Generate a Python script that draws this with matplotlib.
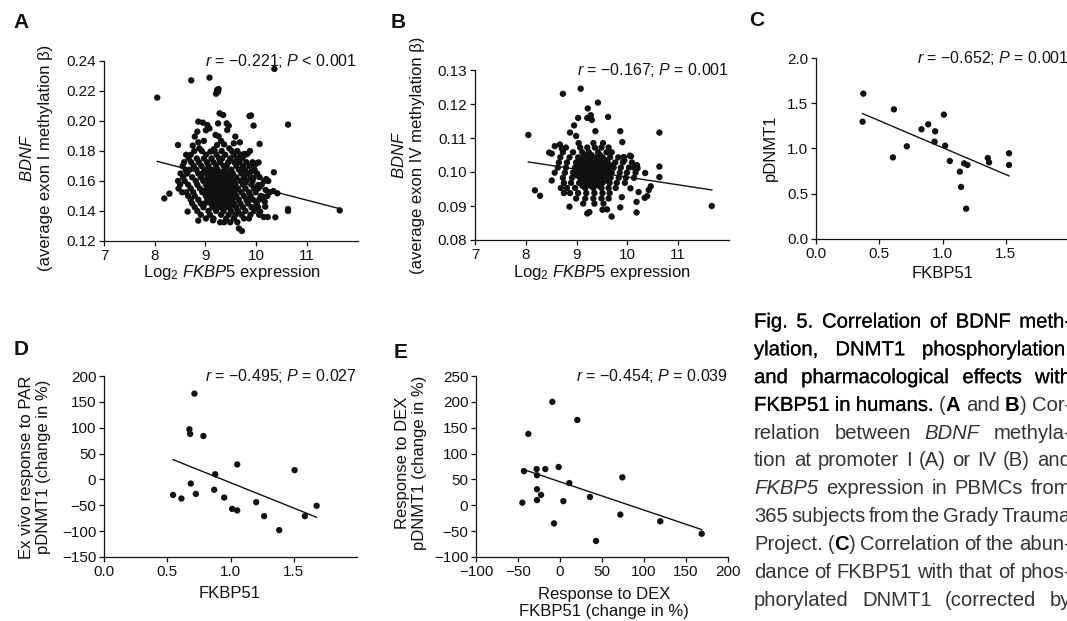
import numpy as np
import matplotlib
matplotlib.use('Agg')
import matplotlib.pyplot as plt
import matplotlib.patheffects as pe
from matplotlib.ticker import FuncFormatter

plt.rcParams['font.family'] = ['Liberation Sans', 'DejaVu Sans']
plt.rcParams['mathtext.fontset'] = 'custom'
plt.rcParams['mathtext.rm'] = 'Liberation Sans'
plt.rcParams['mathtext.it'] = 'Liberation Sans:italic'
plt.rcParams['mathtext.bf'] = 'Liberation Sans:bold'

# ---------------- data ----------------
# Panel A: log2 FKBP5 expression vs BDNF exon I methylation
a_sparse = [
    (8.05, 0.2156), (8.72, 0.2271), (9.08, 0.2289), (9.21, 0.2182), (9.23, 0.2207), (9.25, 0.2195),
    (9.26, 0.2213), (10.36, 0.2347), (10.63, 0.1976), (11.65, 0.1404), (8.19, 0.1484), (8.29, 0.1516),
    (8.46, 0.1840), (9.87, 0.2033), (9.90, 0.2037), (9.95, 0.1969), (10.07, 0.1847), (10.35, 0.1658),
    (10.63, 0.1413), (10.63, 0.1400), (10.15, 0.1360), (10.23, 0.1360), (10.38, 0.1358), (9.66, 0.1284),
    (9.72, 0.1267), (8.65, 0.1396), (8.86, 0.1336), (9.15, 0.1338),
    (8.86, 0.1996), (8.95, 0.1989), (9.04, 0.1973), (9.08, 0.1951), (9.01, 0.1938), (8.84, 0.1929),
    (9.25, 0.1984), (9.28, 0.2051), (9.35, 0.2040), (9.42, 0.1984), (9.46, 0.1969), (9.43, 0.1940),
    (9.20, 0.1907), (9.26, 0.1898), (8.79, 0.1896), (8.75, 0.1836), (8.86, 0.1858), (8.97, 0.1867),
    (8.88, 0.1818), (9.10, 0.1796), (9.17, 0.1813), (9.23, 0.1840), (9.31, 0.1867), (9.37, 0.1844),
    (9.47, 0.1818), (9.59, 0.1896), (9.56, 0.1851), (9.68, 0.1858), (9.76, 0.1780), (9.83, 0.1782),
    (10.01, 0.1718), (10.05, 0.1724), (9.97, 0.1707), (9.90, 0.1662), (9.95, 0.1622), (10.16, 0.1600),
    (10.20, 0.1613), (10.04, 0.1573), (10.34, 0.1533), (10.42, 0.1518), (10.19, 0.1540), (10.13, 0.1496),
    (10.17, 0.1462), (10.18, 0.1429), (10.08, 0.1396), (9.97, 0.1424), (9.83, 0.1462), (9.89, 0.1496),
]
a_core = {
    0.1800: [8.78, 8.93, 9.18, 9.32, 9.52, 9.63, 9.88],
    0.1775: [8.62, 8.71, 9.01, 9.22, 9.39, 9.56, 9.69, 9.79],
    0.1750: [8.67, 8.83, 8.97, 9.12, 9.27, 9.33, 9.49, 9.62, 9.73],
    0.1725: [8.58, 8.72, 8.87, 9.03, 9.16, 9.29, 9.45, 9.57, 9.67, 9.81, 9.93],
    0.1700: [8.55, 8.77, 8.92, 9.06, 9.21, 9.36, 9.42, 9.61, 9.74, 9.87],
    0.1675: [8.61, 8.69, 8.82, 8.98, 9.11, 9.24, 9.39, 9.51, 9.66, 9.78, 9.97],
    0.1663: [9.04, 9.19, 9.35],
    0.1650: [8.51, 8.64, 8.86, 8.94, 9.14, 9.31, 9.46, 9.54, 9.71, 9.83, 10.02],
    0.1638: [9.09, 9.25, 9.42],
    0.1625: [8.56, 8.74, 8.91, 9.04, 9.19, 9.34, 9.49, 9.61, 9.76, 9.89, 10.07],
    0.1613: [9.13, 9.30, 9.46],
    0.1600: [8.46, 8.59, 8.81, 8.96, 9.09, 9.26, 9.41, 9.56, 9.69, 9.81, 9.93, 10.24],
    0.1588: [9.06, 9.21, 9.36, 9.51],
    0.1575: [8.50, 8.66, 8.84, 9.01, 9.16, 9.29, 9.44, 9.59, 9.74, 9.91, 10.11],
    0.1563: [9.11, 9.26, 9.41, 9.55],
    0.1550: [8.47, 8.71, 8.89, 9.06, 9.21, 9.36, 9.51, 9.64, 9.79, 9.96, 10.04],
    0.1538: [9.00, 9.16, 9.30, 9.46, 9.60],
    0.1525: [8.54, 8.62, 8.76, 8.94, 9.11, 9.24, 9.39, 9.54, 9.71, 9.86, 9.99, 10.27],
    0.1513: [9.06, 9.20, 9.35, 9.50],
    0.1500: [8.66, 8.79, 9.01, 9.14, 9.31, 9.46, 9.61, 9.76, 9.89, 10.09, 10.22],
    0.1488: [9.09, 9.25, 9.40, 9.56],
    0.1475: [8.71, 8.86, 9.04, 9.19, 9.34, 9.49, 9.66, 9.81, 9.94, 10.06],
    0.1463: [9.15, 9.31, 9.46],
    0.1450: [8.74, 8.91, 8.99, 9.11, 9.26, 9.41, 9.56, 9.69, 9.84, 10.01],
    0.1438: [9.20, 9.36, 9.51],
    0.1425: [8.79, 8.96, 9.14, 9.29, 9.44, 9.61, 9.74, 9.91, 10.04],
    0.1400: [8.84, 9.06, 9.21, 9.36, 9.51, 9.64, 9.79, 9.96],
    0.1375: [8.91, 9.09, 9.31, 9.46, 9.59, 9.71, 9.89, 10.06],
    0.1350: [9.01, 9.16, 9.41, 9.56, 9.76, 9.86],
    0.1325: [9.29, 9.37, 9.49, 9.63],
}
a_fit = (-0.00876, 0.2436)   # slope, intercept of the drawn regression line
a_xticks = [7, 8, 9, 10, 11]
a_yticks = [0.12, 0.14, 0.16, 0.18, 0.20, 0.22, 0.24]

# Panel B: log2 FKBP5 expression vs BDNF exon IV methylation
b_sparse = [
    (8.05, 0.1109), (8.73, 0.1230), (9.08, 0.1245), (9.42, 0.1204), (9.22, 0.1187), (9.21, 0.1159),
    (9.28, 0.1167), (9.30, 0.1153), (9.03, 0.1159), (9.62, 0.1162), (8.95, 0.1137), (8.87, 0.1116),
    (8.99, 0.1106), (9.37, 0.1120), (9.86, 0.1120), (9.90, 0.1088), (10.63, 0.1116), (10.63, 0.1016),
    (10.63, 0.0985), (11.66, 0.0900), (8.18, 0.0946), (8.28, 0.0930), (8.46, 0.1057), (8.51, 0.1054),
    (8.57, 0.1076), (8.67, 0.1081), (8.71, 0.1069), (8.51, 0.0975), (8.86, 0.0898), (9.21, 0.0878),
    (9.25, 0.0882), (9.51, 0.0889), (9.60, 0.0890), (9.69, 0.0869), (9.86, 0.0896), (10.18, 0.0881),
    (10.18, 0.0912), (10.34, 0.0924), (10.39, 0.0929), (10.46, 0.0958), (10.42, 0.0947), (10.35, 0.0997),
    (10.19, 0.1020), (10.20, 0.1011), (10.05, 0.1048), (10.07, 0.1046), (9.93, 0.1044), (9.94, 0.1034),
    (10.22, 0.0941), (10.06, 0.0952), (9.89, 0.0926),
]
b_core = {
    0.1085: [9.04, 9.33, 9.52],
    0.1072: [8.79, 9.07, 9.21, 9.36, 9.49, 9.63],
    0.1058: [8.73, 8.93, 9.11, 9.24, 9.42, 9.59, 9.69],
    0.1050: [9.14, 9.29, 9.46],
    0.1043: [8.68, 8.86, 9.03, 9.19, 9.35, 9.51, 9.66, 9.82],
    0.1035: [9.09, 9.26, 9.41, 9.56],
    0.1028: [8.65, 8.81, 8.99, 9.16, 9.31, 9.46, 9.61, 9.76, 9.91, 10.09],
    0.1020: [9.06, 9.21, 9.36, 9.51, 9.66],
    0.1013: [8.63, 8.79, 8.97, 9.13, 9.27, 9.43, 9.57, 9.73, 9.87, 10.03, 10.13],
    0.1005: [9.03, 9.18, 9.34, 9.48, 9.63],
    0.0998: [8.57, 8.77, 8.93, 9.09, 9.25, 9.39, 9.55, 9.69, 9.85, 9.99, 10.16],
    0.0990: [9.01, 9.16, 9.31, 9.46, 9.61],
    0.0983: [8.73, 8.91, 9.07, 9.23, 9.37, 9.53, 9.67, 9.83, 9.97, 10.13],
    0.0975: [9.15, 9.29, 9.45, 9.59],
    0.0968: [8.75, 8.89, 9.05, 9.21, 9.35, 9.51, 9.65, 9.79, 9.95],
    0.0960: [9.11, 9.27, 9.43],
    0.0953: [8.69, 8.81, 8.97, 9.17, 9.33, 9.49, 9.63, 9.77],
    0.0938: [8.75, 8.87, 9.03, 9.19, 9.35, 9.51, 9.65],
    0.0922: [8.99, 9.17, 9.33, 9.49, 9.63],
    0.0907: [9.13, 9.35, 9.53],
}
b_fit = (-0.00228, 0.12131)
b_xticks = [7, 8, 9, 10, 11]
b_yticks = [0.08, 0.09, 0.10, 0.11, 0.12, 0.13]

# Panel C: FKBP51 vs pDNMT1
c_fkbp51 = [0.374, 0.368, 0.616, 0.608, 0.718, 0.834, 0.887, 0.942, 0.937, 1.011, 1.021,
            1.058, 1.137, 1.147, 1.171, 1.197, 1.187, 1.358, 1.368, 1.526, 1.526]
c_pdnmt1 = [1.606, 1.296, 1.433, 0.902, 1.024, 1.212, 1.267, 1.190, 1.075, 1.374, 1.031,
            0.862, 0.744, 0.575, 0.836, 0.818, 0.335, 0.895, 0.847, 0.947, 0.818]
c_fit = (-0.595, 1.605)
c_xticks = [0.0, 0.5, 1.0, 1.5]
c_yticks = [0.0, 0.5, 1.0, 1.5, 2.0]

# Panel D: FKBP51 vs ex vivo PAR response of pDNMT1 (%)
d_fkbp51 = [0.546, 0.612, 0.675, 0.681, 0.715, 0.686, 0.726, 0.786, 0.879, 0.871,
            0.950, 1.013, 1.053, 1.053, 1.203, 1.266, 1.385, 1.507, 1.588, 1.681]
d_response = [-30, -37, 97, 88, 166, -8, -28, 84, 10, -20,
              -35, -57, -60, 29, -44, -71, -98, 18, -71, -51]
d_fit = (-98.2, 91.9)
d_xticks = [0.0, 0.5, 1.0, 1.5]
d_yticks = [-150, -100, -50, 0, 50, 100, 150, 200]

# Panel E: DEX response of FKBP51 vs DEX response of pDNMT1 (%)
e_fkbp51 = [-44.8, -42.9, -37.7, -27.8, -27.4, -27.4, -27.4, -22.6, -17.5, -9.1, -7.1,
            -1.6, 4.0, 11.1, 20.6, 35.7, 42.9, 71.8, 74.2, 119.4, 168.7]
e_pdnmt1 = [5, 66, 138, 70, 58, 31, 10, 20, 70, 200, -35,
            74, 8, 43, 165, 16, -69, -18, 54, -31, -55]
e_fit = (-0.548, 45.45)
e_xticks = [-100, -50, 0, 50, 100, 150, 200]
e_yticks = [-100, -50, 0, 50, 100, 150, 200, 250]


def expand(sparse, core):
    xs = [p[0] for p in sparse]
    ys = [p[1] for p in sparse]
    for yv, row in core.items():
        xs += row
        ys += [yv] * len(row)
    return np.array(xs), np.array(ys)


a_x, a_y = expand(a_sparse, a_core)
b_x, b_y = expand(b_sparse, b_core)

# ---------------- figure ----------------
W, H = 1067, 621
fig = plt.figure(figsize=(W / 100, H / 100), dpi=100)
INK = '#111111'


def px_axes(left, top, right, bottom):
    return fig.add_axes([left / W, 1 - bottom / H, (right - left) / W, (bottom - top) / H])


def ftext(x, y, s, **kw):
    return fig.text(x / W, 1 - y / H, s, **kw)


def fmt(spec):
    return FuncFormatter(lambda v, p: (spec % v).replace('-', '\u2212'))


def panel(box, x, y, fit, xlim, ylim, xticks, yticks, xfmt, yfmt, stat, size):
    ax = px_axes(*box)
    ax.scatter(x, y, s=size, color=INK, edgecolors='none', zorder=3, clip_on=False)
    xs = np.array([min(x), max(x)])
    ax.plot(xs, fit[0] * xs + fit[1], color=INK, lw=1.0, zorder=2)
    ax.set_xlim(*xlim)
    ax.set_ylim(*ylim)
    ax.set_xticks(xticks)
    ax.set_yticks(yticks)
    ax.xaxis.set_major_formatter(fmt(xfmt))
    ax.yaxis.set_major_formatter(fmt(yfmt))
    for s in ['top', 'right']:
        ax.spines[s].set_visible(False)
    for s in ['left', 'bottom']:
        ax.spines[s].set_linewidth(0.9)
        ax.spines[s].set_color(INK)
    ax.tick_params(direction='out', length=3.5, width=0.9, labelsize=11, pad=2, colors=INK)
    ax.text(1.0, 1.0, stat, transform=ax.transAxes, ha='right', va='center',
            fontsize=11.5, color=INK)
    return ax


panel((104, 61, 357.5, 241), a_x, a_y, a_fit, (7, 12), (0.12, 0.24), a_xticks, a_yticks,
      '%d', '%.2f', '$r$ = \u22120.221; $P$ < 0.001', 21)
panel((475, 70, 729, 240), b_x, b_y, b_fit, (7, 12), (0.08, 0.13), b_xticks, b_yticks,
      '%d', '%.2f', '$r$ = \u22120.167; $P$ = 0.001', 21)
panel((816, 58, 1069, 239), c_fkbp51, c_pdnmt1, c_fit, (0, 2), (0, 2), c_xticks, c_yticks,
      '%.1f', '%.1f', '$r$ = \u22120.652; $P$ = 0.001', 21)
panel((104, 376, 357, 557), d_fkbp51, d_response, d_fit, (0, 2), (-150, 200), d_xticks, d_yticks,
      '%.1f', '%d', '$r$ = \u22120.495; $P$ = 0.027', 21)
panel((476, 376, 728, 557), e_fkbp51, e_pdnmt1, e_fit, (-100, 200), (-100, 250), e_xticks, e_yticks,
      '%d', '%d', '$r$ = \u22120.454; $P$ = 0.039', 21)

# panel letters
for letter, (lx, ly) in {'A': (21, 23), 'B': (398, 23), 'C': (757, 20), 'D': (21, 350), 'E': (401, 352)}.items():
    ftext(lx, ly, letter, fontsize=15, fontweight='bold', ha='center', va='center', color=INK)

# axis labels
lab = dict(fontsize=12, color=INK, ha='center', va='center', multialignment='center')
ftext(36, 158, '$\\it{BDNF}$\n(average exon I methylation \u03b2)', rotation=90, linespacing=1.25, **lab)
ftext(408, 155, '$\\it{BDNF}$\n(average exon IV methylation \u03b2)', rotation=90, linespacing=1.25, **lab)
ftext(770, 148, 'pDNMT1', rotation=90, **lab)
ftext(35, 467, 'Ex vivo response to PAR\npDNMT1 (change in %)', rotation=90, linespacing=1.2, **lab)
ftext(411, 463, 'Response to DEX\npDNMT1 (change in %)', rotation=90, linespacing=1.2, **lab)

ftext(232, 273, 'Log$_2$ $\\it{FKBP5}$ expression', **lab)
ftext(602, 273, 'Log$_2$ $\\it{FKBP5}$ expression', **lab)
ftext(943, 274, 'FKBP51', **lab)
ftext(230, 594, 'FKBP51', **lab)
ftext(604, 603, 'Response to DEX\nFKBP51 (change in %)', linespacing=1.2, **lab)

# ---------------- caption (justified, cut at the right edge) ----------------
cap_size = 14.6
heavy = [pe.withStroke(linewidth=0.15, foreground='black')]
st_title = dict(fontsize=cap_size, color='black', path_effects=heavy)
st_body = dict(fontsize=cap_size, color='#333333')
st_bold = dict(fontsize=cap_size, color='black', fontweight='bold')
st_ital = dict(fontsize=cap_size, color='#333333', style='italic')

caption = [
    [[('Fig.', st_title)], [('5.', st_title)], [('Correlation', st_title)], [('of', st_title)],
     [('BDNF', st_title)], [('meth-', st_title)]],
    [[('ylation,', st_title)], [('DNMT1', st_title)], [('phosphorylation,', st_title)]],
    [[('and', st_title)], [('pharmacological', st_title)], [('effects', st_title)], [('with', st_title)]],
    [[('FKBP51', st_title)], [('in', st_title)], [('humans.', st_title)],
     [('(', st_body), ('A', st_bold)], [('and', st_body)], [('B', st_bold), (')', st_body)], [('Cor-', st_body)]],
    [[('relation', st_body)], [('between', st_body)], [('BDNF', st_ital)], [('methyla-', st_body)]],
    [[(w, st_body)] for w in 'tion at promoter I (A) or IV (B) and'.split()],
    [[('FKBP5', st_ital)]] + [[(w, st_body)] for w in 'expression in PBMCs from'.split()],
    [[(w, st_body)] for w in '365 subjects from the Grady Trauma'.split()],
    [[('Project.', st_body)], [('(', st_body), ('C', st_bold), (')', st_body)]]
    + [[(w, st_body)] for w in 'Correlation of the abun-'.split()],
    [[(w, st_body)] for w in 'dance of FKBP51 with that of phos-'.split()],
    [[(w, st_body)] for w in 'phorylated DNMT1 (corrected by'.split()],
]
cap_left, cap_right = 754, 1071
cap_top, cap_step = 322, 27.8

fig.canvas.draw()
renderer = fig.canvas.get_renderer()


def seg_width(text, style):
    t = fig.text(0, 0, text, **style)
    w = t.get_window_extent(renderer).width
    t.remove()
    return w


space_w = seg_width('a a', st_body) - seg_width('aa', st_body)
for i, line in enumerate(caption):
    yc = cap_top + i * cap_step
    widths = [[seg_width(s, st) for s, st in word] for word in line]
    total = sum(sum(w) for w in widths)
    gap = max((cap_right - cap_left - total) / (len(line) - 1), 0.45 * space_w)
    x = cap_left
    for word, ws in zip(line, widths):
        for (s, st), w in zip(word, ws):
            ftext(x, yc, s, ha='left', va='center', **st)
            x += w
        x += gap

fig.savefig('out.png', dpi=100)
